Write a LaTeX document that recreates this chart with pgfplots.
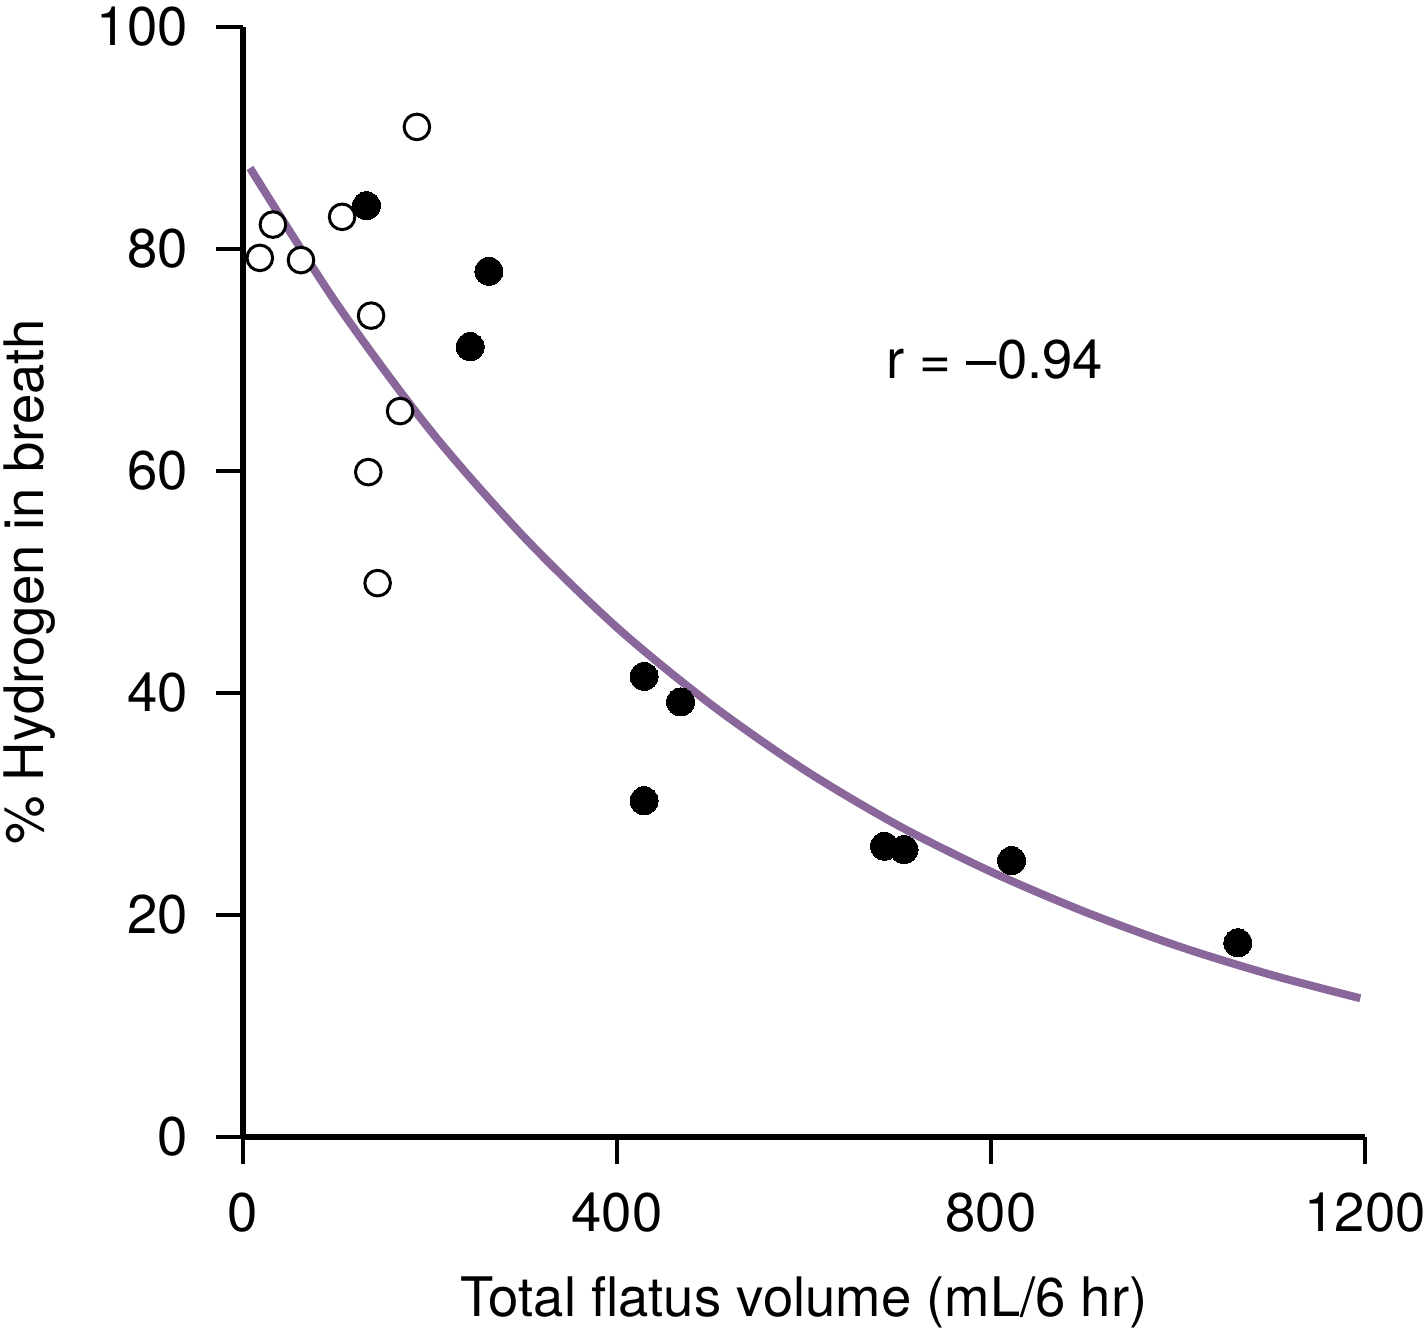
\documentclass[border=0pt]{standalone}
\usepackage{fontspec}
\setmainfont{TeX Gyre Heros}
\usepackage{pgfplots}
\pgfplotsset{compat=1.18}
\definecolor{curvepurple}{RGB}{137,103,155}

\begin{document}
\fontsize{15.5}{18}\selectfont
\begin{tikzpicture}
\begin{axis}[
  name=ax,
  scale only axis,
  width=112.2mm, height=111mm,
  xmin=0, xmax=1200, ymin=0, ymax=100,
  axis lines=left,
  axis line style={-, line width=0.68mm},
  xtick={0,400,800,1200},
  ytick={0,20,...,100},
  tick style={line width=0.35mm, black},
  major tick length=2.65mm,
  tick align=outside,
  /pgf/number format/assume math mode=true,
  /pgf/number format/set thousands separator={},
  xticklabel style={font=\fontsize{15.5}{18}\selectfont, anchor=north, inner sep=0pt, yshift=-2.9mm},
  yticklabel style={font=\fontsize{15.5}{18}\selectfont, anchor=east, inner sep=0pt, xshift=-2.8mm},
  xlabel={Total flatus volume (mL/6 hr)},
  ylabel={\% Hydrogen in breath},
  xlabel style={font=\fontsize{15.5}{18}\selectfont, at={(axis description cs:0.5,-0.1486)}, anchor=center},
  ylabel style={font=\fontsize{15.5}{18}\selectfont, at={(axis description cs:-0.190,0.5)}, anchor=center},
  clip=false,
]
% fitted curve
\addplot[curvepurple, line width=0.8mm, smooth, no marks] coordinates {
  (7.5,87.3) (100,75.1) (200,63.7) (300,54.1) (400,45.9) (500,39.0)
  (600,33.1) (700,28.1) (800,23.9) (900,20.3) (1000,17.2) (1100,14.6) (1195,12.5)
};
% open circles
\addplot[only marks, mark=*, mark size=1.28mm, mark options={fill=white, draw=black, line width=0.3mm}] coordinates {
  (18,79.2) (32,82.2) (62,79.0) (106,82.9) (186,91.0)
  (137,74.0) (168,65.4) (134,59.9) (144,49.9)
};
% filled circles
\addplot[only marks, mark=*, mark size=1.4mm, mark options={fill=black, draw=black, line width=0pt}] coordinates {
  (132,83.9) (263,78.0) (243,71.2) (429,41.5) (468,39.2)
  (429,30.3) (686,26.2) (707,25.9) (822,24.9) (1064,17.5)
};
\node at (axis cs:804,70) {r = –0.94};
\end{axis}
\pgfresetboundingbox
\path[use as bounding box] ([shift={(-24.3mm,-19.8mm)}]ax.south west) rectangle ++(142.6mm,133.5mm);
\end{tikzpicture}
\end{document}
